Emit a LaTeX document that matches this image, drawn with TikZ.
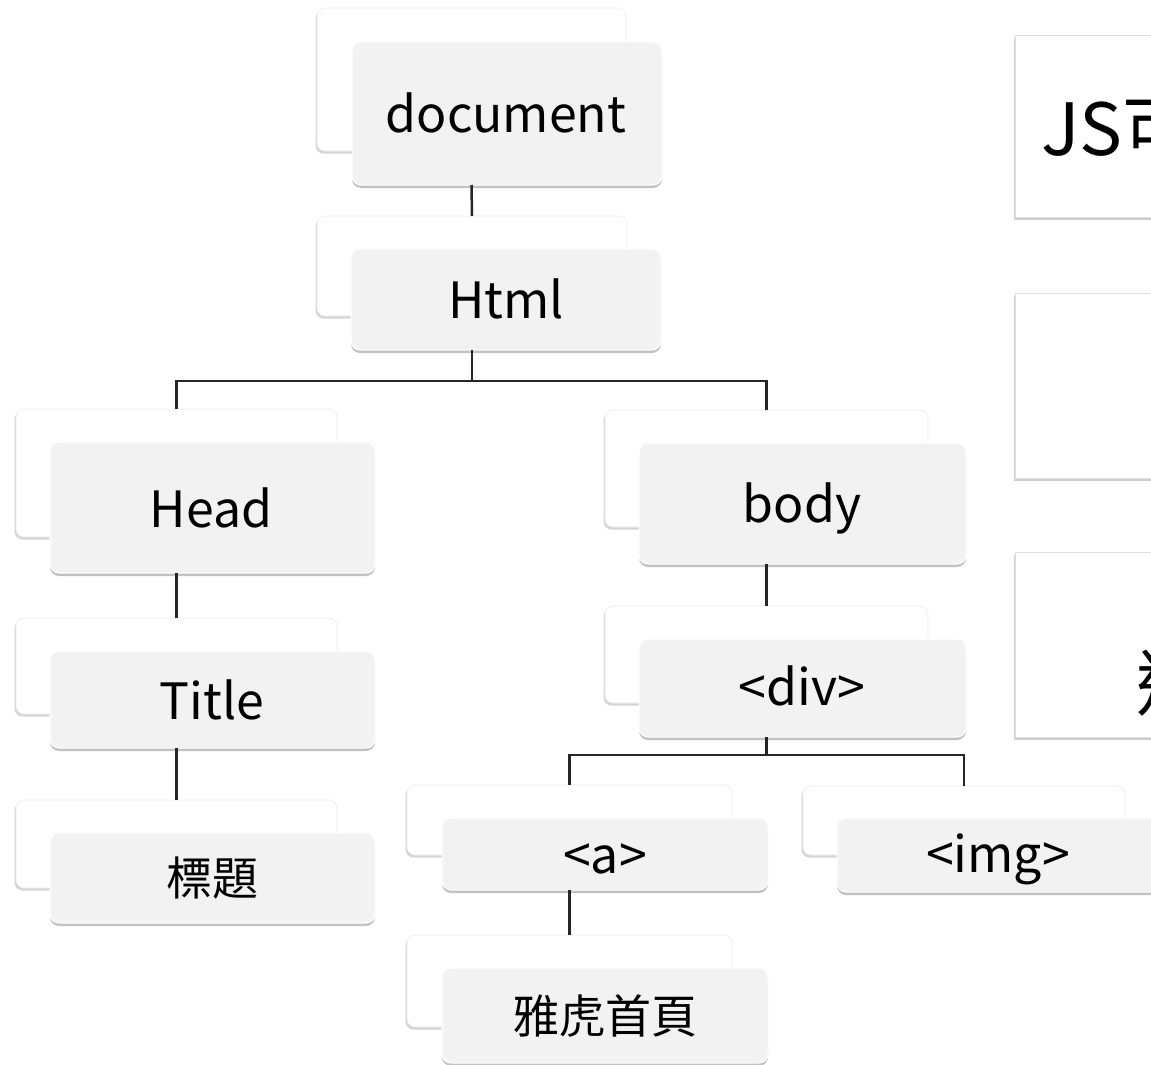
\documentclass[tikz,border=0pt]{standalone}
\usepackage{fontspec}
\setmainfont{Noto Sans CJK TC}
\usetikzlibrary{shadows}
\definecolor{frontgray}{HTML}{F2F2F2}
\tikzset{
  backbox/.style={draw=black!8, line width=0.6pt, fill=white, rounded corners=8pt,
    outer sep=0pt, inner sep=0pt, anchor=north west,
    drop shadow={shadow xshift=-1.5pt, shadow yshift=-2.5pt, opacity=0.3, fill=black!55}},
  frontbox/.style={draw=white, line width=1pt, fill=frontgray, rounded corners=9pt,
    outer sep=0pt, inner sep=0pt, anchor=north west,
    drop shadow={shadow xshift=0pt, shadow yshift=-3pt, opacity=0.4, fill=black!60}},
  sidebox/.style={draw=black!12, line width=0.6pt, fill=white, outer sep=0pt, inner sep=0pt,
    anchor=north west,
    drop shadow={shadow xshift=-1pt, shadow yshift=-3pt, opacity=0.35, fill=black!55}},
  lbl/.style={anchor=base, inner sep=0pt, font=\fontsize{50}{58}\selectfont},
  cjk/.style={anchor=center, inner sep=0pt, font=\fontsize{46}{52}\selectfont},
  bigtxt/.style={inner sep=0pt, font=\fontsize{72}{80}\selectfont},
  conn/.style={draw=black!85, line width=2.5pt}
}
\begin{document}
\begin{tikzpicture}[x=1pt,y=-1pt]
\useasboundingbox (0,0) rectangle (1151,1065);
\clip (0,0) rectangle (1151,1065);

% right side boxes
\node[sidebox, minimum width=170pt, minimum height=182pt] (s1) at (1015,35) {};
\node[sidebox, minimum width=170pt, minimum height=185pt] (s2) at (1015,293) {};
\node[sidebox, minimum width=170pt, minimum height=185pt] (s3) at (1015,552) {};
\node[bigtxt, anchor=base west] (jst) at (1041,155) {JS可以};
\node[bigtxt, anchor=west] (s3t) at (1136,683) {透};

% document
\node[backbox, minimum width=309pt, minimum height=143pt] (docB) at (317,8) {};
\node[frontbox, minimum width=310pt, minimum height=143pt] (docF) at (352,42) {};
\node[lbl] (docT) at (506,132) {document};
% Html
\node[backbox, minimum width=310pt, minimum height=100pt] (htmlB) at (317,216) {};
\node[frontbox, minimum width=310pt, minimum height=101pt] (htmlF) at (351,249) {};
\node[lbl] (htmlT) at (506,318) {Html};
% Head
\node[backbox, minimum width=321pt, minimum height=128pt] (headB) at (16,409) {};
\node[frontbox, minimum width=325pt, minimum height=131pt] (headF) at (50,442) {};
\node[lbl] (headT) at (211,527) {Head};
% Title
\node[backbox, minimum width=321pt, minimum height=96pt] (titleB) at (16,618) {};
\node[frontbox, minimum width=325pt, minimum height=97pt] (titleF) at (50,651) {};
\node[lbl] (titleT) at (212,719) {Title};
% 標題
\node[backbox, minimum width=321pt, minimum height=88pt] (btB) at (16,800) {};
\node[frontbox, minimum width=325pt, minimum height=90pt] (btF) at (50,833) {};
\node[cjk] (btT) at (212,878) {標題};
% body
\node[backbox, minimum width=323pt, minimum height=117pt] (bodyB) at (605,410) {};
\node[frontbox, minimum width=327pt, minimum height=121pt] (bodyF) at (639,443) {};
\node[lbl] (bodyT) at (802,522) {body};
% div
\node[backbox, minimum width=323pt, minimum height=97pt] (divB) at (605,606) {};
\node[frontbox, minimum width=327pt, minimum height=98pt] (divF) at (639,639) {};
\node[lbl] (divT) at (802,705) {<div>};
% a
\node[backbox, minimum width=325pt, minimum height=70pt] (aB) at (407,785) {};
\node[frontbox, minimum width=326pt, minimum height=72pt] (aF) at (442,818) {};
\node[lbl] (aT) at (605,873) {<a>};
% 雅虎首頁
\node[backbox, minimum width=325pt, minimum height=92pt] (yhB) at (407,935) {};
\node[frontbox, minimum width=326pt, minimum height=95pt] (yhF) at (442,968) {};
\node[cjk] (yhT) at (605,1016) {雅虎首頁};
% img
\node[backbox, minimum width=322pt, minimum height=69pt] (imgB) at (803,786) {};
\node[frontbox, minimum width=326pt, minimum height=74pt] (imgF) at (837,818) {};
\node[lbl] (imgT) at (998,872) {<img>};

% connectors
\coordinate (hbar) at (0,381);
\coordinate (dbar) at (0,755);
\draw[conn] (docF.south -| docB.south) -- (htmlB.north);
\draw[conn] (htmlF.south -| htmlB.south) -- (htmlB.south |- hbar);
\draw[conn] (headB.north) -- (headB.north |- hbar) -- (bodyB.north |- hbar) -- (bodyB.north);
\draw[conn] (headF.south -| headB.south) -- (titleB.north);
\draw[conn] (titleF.south -| titleB.south) -- (btB.north);
\draw[conn] (bodyF.south -| bodyB.south) -- (divB.north);
\draw[conn] (divF.south -| divB.south) -- (divB.south |- dbar);
\draw[conn] (aB.north) -- (aB.north |- dbar) -- (imgB.north |- dbar) -- (imgB.north);
\draw[conn] (aF.south -| aB.south) -- (yhB.north);
\end{tikzpicture}
\end{document}
